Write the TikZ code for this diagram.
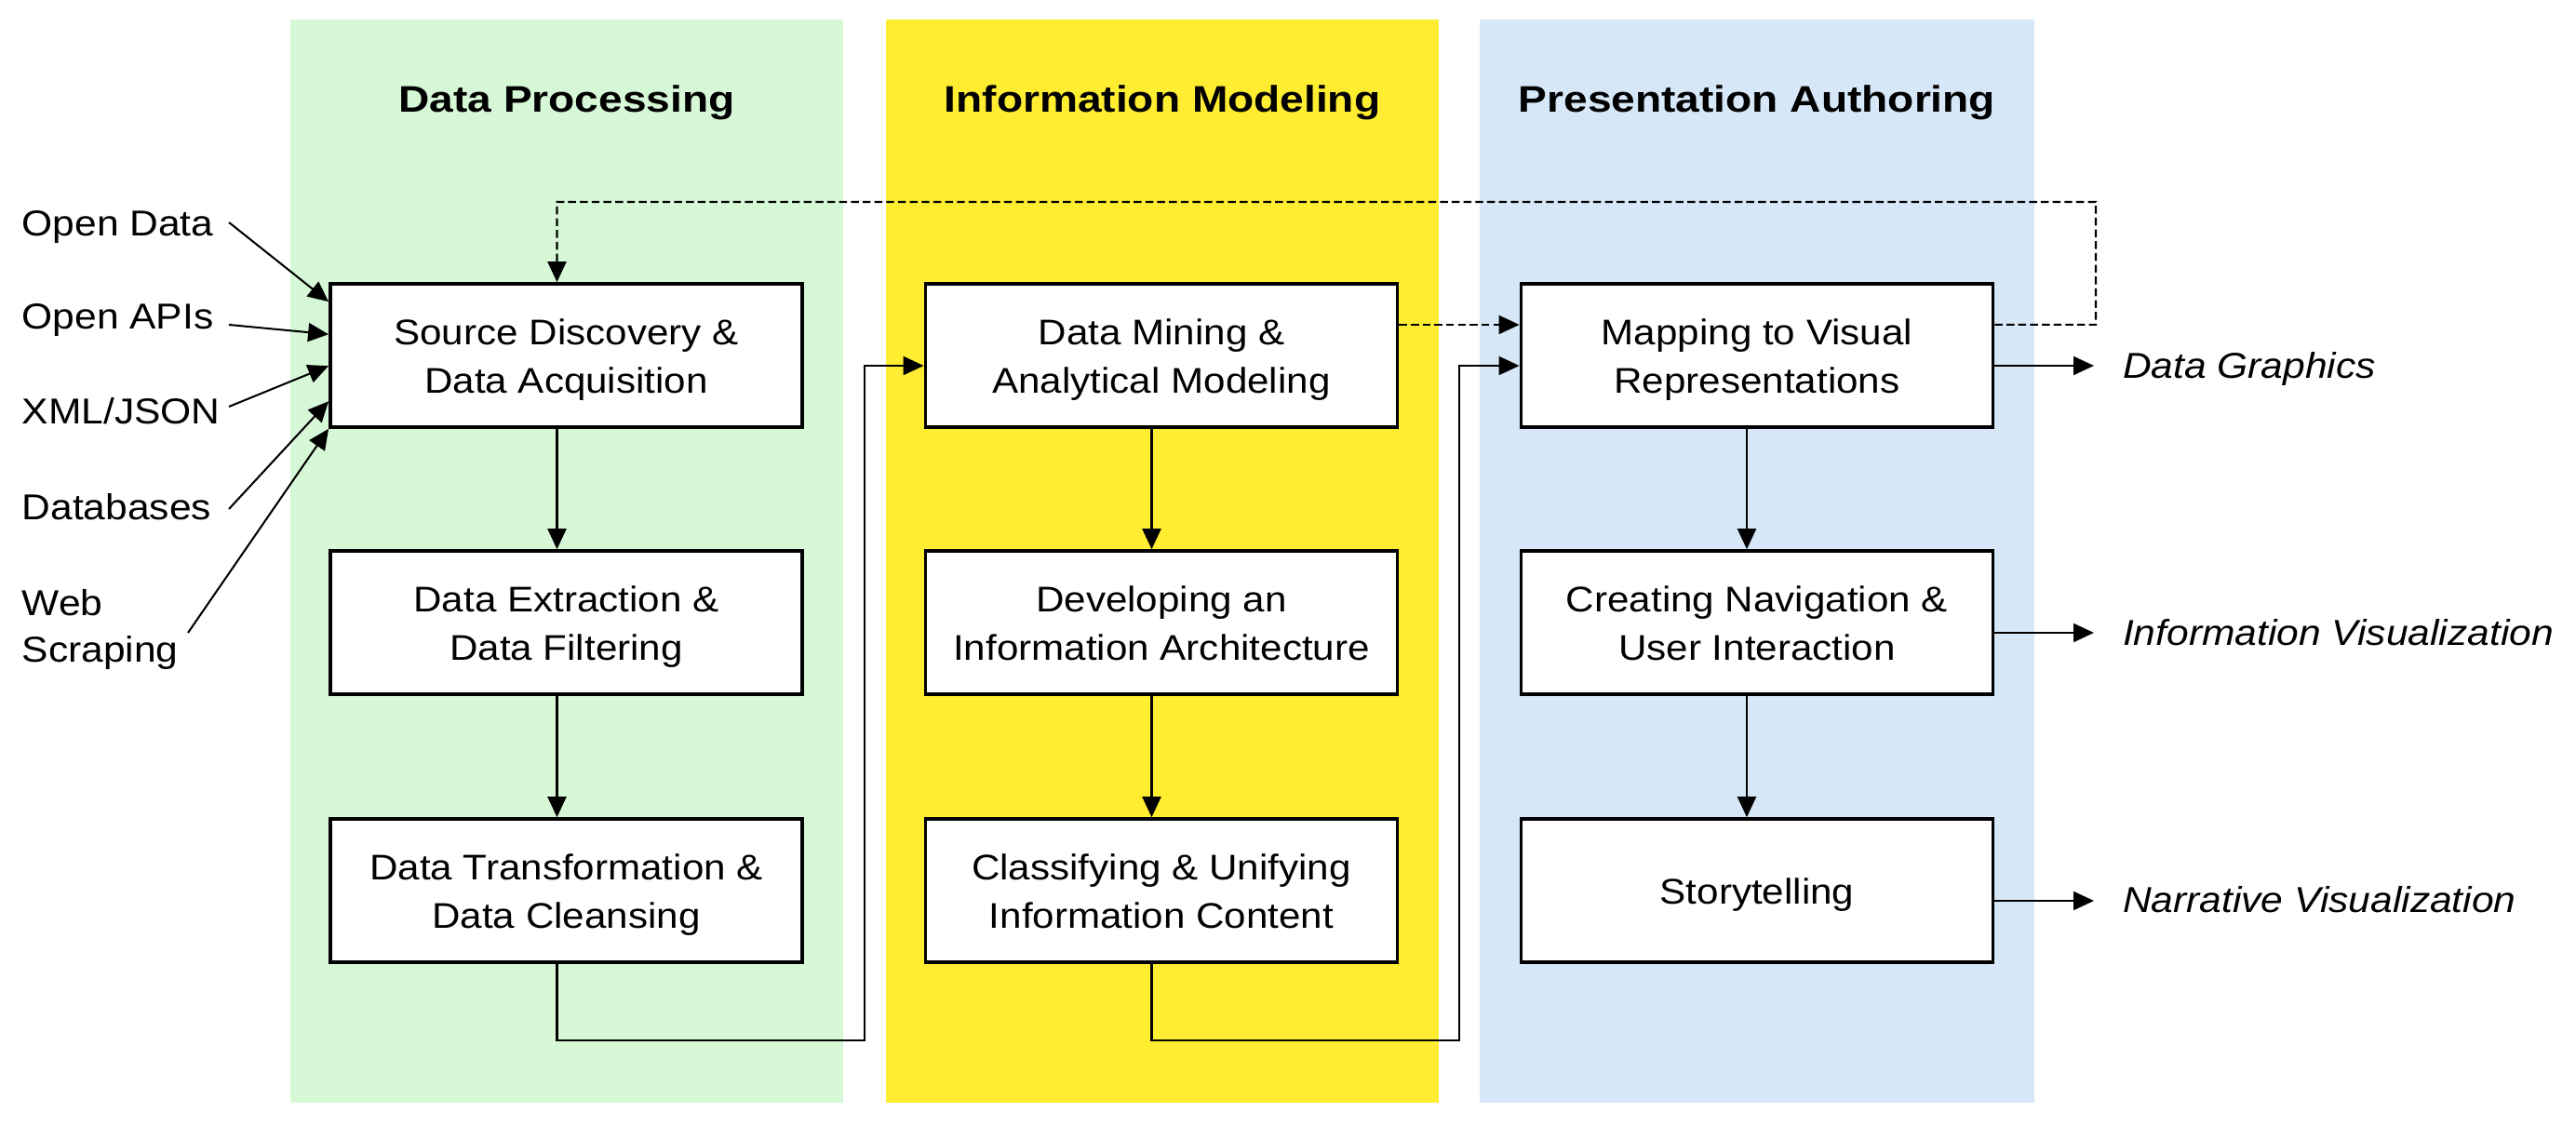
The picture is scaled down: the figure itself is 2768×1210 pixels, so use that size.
\documentclass[tikz,border=0pt]{standalone}
\usepackage{fontspec}
\setmainfont{Liberation Sans}[FakeStretch=1.1]
\newfontfamily\ttlfont{Liberation Sans}[FakeStretch=1.16]
\usetikzlibrary{arrows.meta,shadows}
\definecolor{pgreen}{RGB}{214,248,214}
\definecolor{pyellow}{RGB}{255,237,50}
\definecolor{pblue}{RGB}{214,231,247}
\newcommand\bxs{\rule[-2.2pt]{0pt}{12.6pt}}
\tikzset{
  stepbox/.style={draw=black, line width=1pt, fill=white, minimum width=5.07cm, minimum height=1.54cm,
    align=center, inner sep=0pt, font=\fontsize{10.9}{14.94}\selectfont,
    drop shadow={shadow xshift=0.5pt, shadow yshift=-0.5pt, fill=black!45, opacity=1}},
  paneltitle/.style={anchor=base, font=\ttlfont\fontsize{11.3}{14}\selectfont\bfseries, inner sep=0pt},
  srclabel/.style={anchor=base west, inner sep=0pt, font=\fontsize{11}{14}\selectfont},
  outlabel/.style={anchor=base west, inner ysep=0pt, inner xsep=0.31cm, outer sep=0pt, font=\fontsize{11}{14}\selectfont\itshape},
  arr/.style={line width=0.58pt, -{Triangle[length=2.2mm,width=2.0mm]}},
  dsh/.style={dash pattern=on 2.4pt off 1.2pt}
}
\begin{document}
\begin{tikzpicture}[x=0.01cm,y=-0.01cm]
\useasboundingbox (0,0) rectangle (2768,1210);
% panels
\fill[pgreen] (312,21) rectangle (906,1185);
\fill[pyellow] (952,21) rectangle (1546,1185);
\fill[pblue] (1590,21) rectangle (2186,1185);
\node[paneltitle] (t1) at (609,121) {Data Processing};
\node[paneltitle] (t2) at (1249,121) {Information Modeling};
\node[paneltitle] (t3) at (1888,121) {Presentation Authoring};
% boxes
\node[stepbox] (b1) at (608.5,382) {\bxs Source Discovery \&\\\bxs Data Acquisition};
\node[stepbox] (b2) at (608.5,669) {\bxs Data Extraction \&\\\bxs Data Filtering};
\node[stepbox] (b3) at (608.5,957) {\bxs Data Transformation \&\\\bxs Data Cleansing};
\node[stepbox] (b4) at (1248,382) {\bxs Data Mining \&\\\bxs Analytical Modeling};
\node[stepbox] (b5) at (1248,669) {\bxs Developing an\\\bxs Information Architecture};
\node[stepbox] (b6) at (1248,957) {\bxs Classifying \& Unifying\\\bxs Information Content};
\node[stepbox] (b7) at (1888,382) {\bxs Mapping to Visual\\\bxs Representations};
\node[stepbox] (b8) at (1888,669) {\bxs Creating Navigation \&\\\bxs User Interaction};
\node[stepbox] (b9) at (1888,957) {\bxs Storytelling};
% source labels
\node[srclabel] (s1) at (23,254) {Open Data};
\node[srclabel] (s2) at (23,354) {Open APIs};
\node[srclabel] (s3) at (23,456) {XML/JSON};
\node[srclabel] (s4) at (23,559) {Databases};
\node[srclabel] (s5) at (23,662) {Web};
\node[srclabel] (s6) at (23,712) {Scraping};
\coordinate (a1) at (246,239);
\coordinate (a2) at (246,349);
\coordinate (a3) at (246,437);
\coordinate (a4) at (246,547);
\coordinate (a5) at (202,680);
\draw[arr] (a1) -- ([yshift=-0.21cm]b1.north west);
\draw[arr] (a2) -- ([yshift=-0.56cm]b1.north west);
\draw[arr] (a3) -- ([yshift=-0.90cm]b1.north west);
\draw[arr] (a4) -- ([yshift=-1.28cm]b1.north west);
\draw[arr] (a5) -- (b1.south west);
% vertical arrows
\draw[arr] ([xshift=-0.10cm]b1.south) -- ([xshift=-0.10cm]b2.north);
\draw[arr] ([xshift=-0.10cm]b2.south) -- ([xshift=-0.10cm]b3.north);
\draw[arr] ([xshift=-0.105cm]b4.south) -- ([xshift=-0.105cm]b5.north);
\draw[arr] ([xshift=-0.105cm]b5.south) -- ([xshift=-0.105cm]b6.north);
\draw[arr] ([xshift=-0.11cm]b7.south) -- ([xshift=-0.11cm]b8.north);
\draw[arr] ([xshift=-0.11cm]b8.south) -- ([xshift=-0.11cm]b9.north);
% column connectors
\coordinate (k1) at (929,1118);
\coordinate (k2) at (1568,1118);
\draw[arr] ([xshift=-0.10cm]b3.south) |- (k1) |- ([yshift=-0.11cm]b4.west);
\draw[arr] ([xshift=-0.105cm]b6.south) |- (k2) |- ([yshift=-0.11cm]b7.west);
% dashed
\draw[arr,dsh] ([yshift=0.33cm]b4.east) -- ([yshift=0.33cm]b7.west);
\coordinate (fr) at (2252,217);
\coordinate (fl) at (598.5,217);
\draw[arr,dsh] ([yshift=0.33cm]b7.east) -| (fr) -- (fl) -- ([xshift=-0.10cm]b1.north);
% outputs
\node[outlabel] (o1) at (2250,407) {Data Graphics};
\node[outlabel] (o2) at (2250,694) {Information Visualization};
\node[outlabel] (o3) at (2250,981) {Narrative Visualization};
\path ([yshift=-0.11cm]b7.east) coordinate (e1)
      ([yshift=-0.11cm]b8.east) coordinate (e2)
      ([yshift=-0.11cm]b9.east) coordinate (e3);
\draw[arr] (e1) -- (e1 -| o1.west);
\draw[arr] (e2) -- (e2 -| o2.west);
\draw[arr] (e3) -- (e3 -| o3.west);
\end{tikzpicture}
\end{document}
